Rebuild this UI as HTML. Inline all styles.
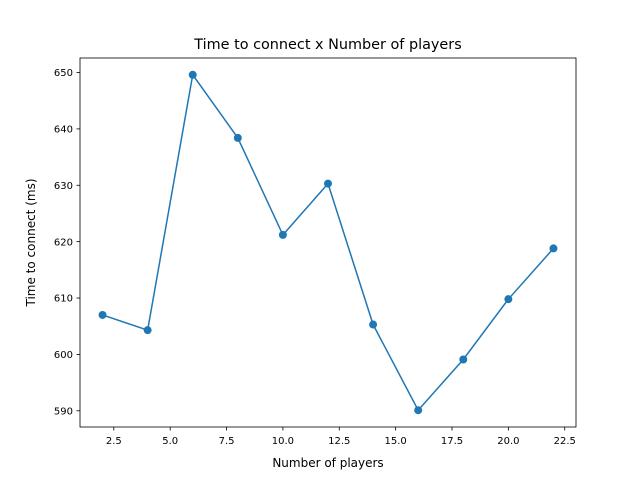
<!DOCTYPE html>
<html><head><meta charset="utf-8"><style>
body{margin:0;background:#fff;}
svg text{font-family:"DejaVu Sans","Liberation Sans",sans-serif;fill:#000;}
</style></head><body>
<svg id="chart" width="640" height="480" xmlns="http://www.w3.org/2000/svg">
<rect width="640" height="480" fill="#fff"/>
<text x="328" y="49" font-size="14.4" text-anchor="middle">Time to connect x Number of players</text>
<text x="328" y="467" font-size="12" text-anchor="middle">Number of players</text>
<text transform="translate(35,242.5) rotate(-90)" font-size="12" text-anchor="middle">Time to connect (ms)</text>
<g id="xt"></g>
<g id="yt"></g>
<g id="series"></g>
<rect x="80" y="58" width="496" height="369" fill="none" stroke="#000" stroke-width="0.8"/>
</svg>
<script>
const players = [2,4,6,8,10,12,14,16,18,20,22];
const times = [607.0,604.3,649.6,638.4,621.2,630.3,605.3,590.1,599.1,609.8,618.8];
const xTicks = [2.5,5.0,7.5,10.0,12.5,15.0,17.5,20.0,22.5];
const yTicks = [590,600,610,620,630,640,650];
const NS='http://www.w3.org/2000/svg';
const L=80,R=576,T=58,B=427;
const xmin0=Math.min(...players),xmax0=Math.max(...players),xm=(xmax0-xmin0)*0.05;
const ymin0=Math.min(...times),ymax0=Math.max(...times),ym=(ymax0-ymin0)*0.05;
const X=v=>L+(v-(xmin0-xm))/((xmax0+xm)-(xmin0-xm))*(R-L);
const Y=v=>B-(v-(ymin0-ym))/((ymax0+ym)-(ymin0-ym))*(B-T);
function mk(tag,attrs,parent){const e=document.createElementNS(NS,tag);for(const k in attrs)e.setAttribute(k,attrs[k]);parent.appendChild(e);return e;}
const xt=document.getElementById('xt'),yt=document.getElementById('yt'),sg=document.getElementById('series');
xTicks.forEach(v=>{const x=X(v);
 const l=mk('line',{x1:x,x2:x,y1:B,y2:B+3.5,stroke:'#000','stroke-width':0.8},xt);
 
 
 const t=mk('text',{x:x,y:B+17,'font-size':10,'text-anchor':'middle'},xt);t.textContent=v.toFixed(1);
 
 
});
yTicks.forEach(v=>{const y=Y(v);
 const l=mk('line',{x1:L-3.5,x2:L,y1:y,y2:y,stroke:'#000','stroke-width':0.8},yt);
 
 
 const t=mk('text',{x:L-7,y:y+3.6,'font-size':10,'text-anchor':'end'},yt);t.textContent=v;
 
 
});
const pts=players.map((p,i)=>X(p)+','+Y(times[i])).join(' ');
const pl=mk('polyline',{points:pts,fill:'none',stroke:'#1f77b4','stroke-width':1.5},sg);


players.forEach((p,i)=>{const c=mk('circle',{cx:X(p),cy:Y(times[i]),r:4,fill:'#1f77b4'},sg);
 
 
});
</script>
</body></html>
